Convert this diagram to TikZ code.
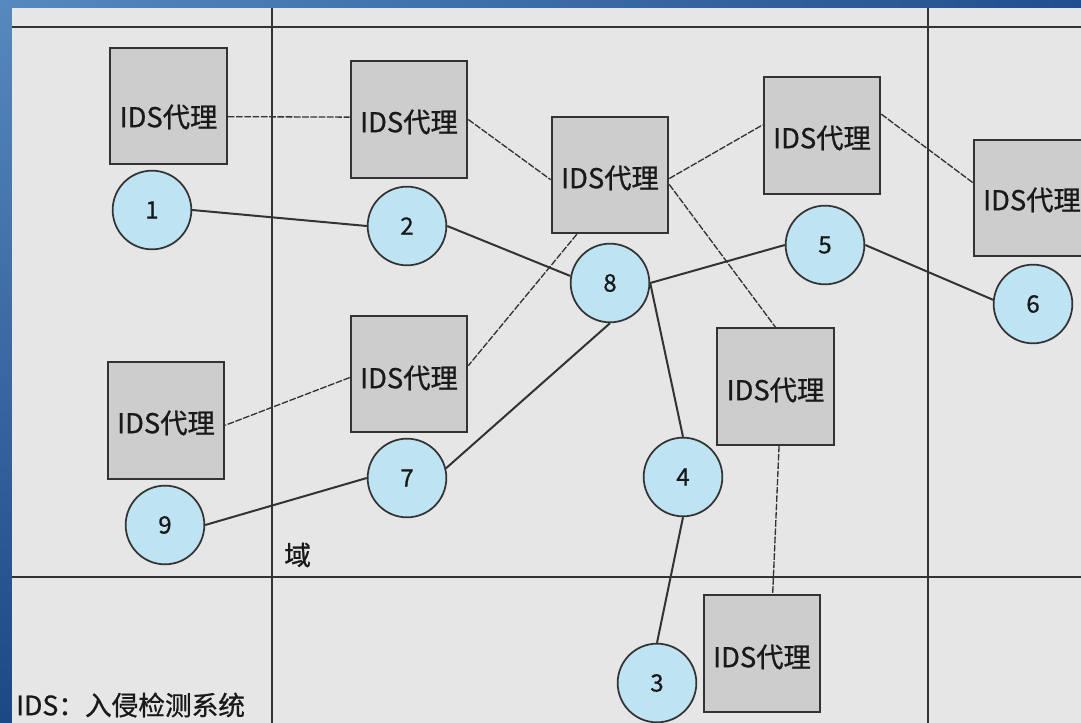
\documentclass[tikz,border=0pt]{standalone}
\usepackage{fontspec}
\newfontfamily\cjk{Noto Sans CJK SC}[FakeBold=0.8]
\usetikzlibrary{calc,shadings}
\definecolor{panel}{HTML}{E6E6E6}
\definecolor{boxfill}{HTML}{CDCDCD}
\definecolor{circfill}{HTML}{BEE3F3}
\definecolor{ink}{HTML}{333333}
\definecolor{bgA}{HTML}{5788BE}
\definecolor{bgB}{HTML}{214F8D}
\definecolor{bgC}{HTML}{1C4886}
\begin{document}
\begin{tikzpicture}[x=0.75pt,y=-0.75pt,
  agent/.style={draw=ink,line width=1.4pt,fill=boxfill,minimum width=87.5pt,minimum height=87.5pt,inner sep=0pt},
  agenttext/.style={font=\cjk\fontsize{20.5}{20.5}\selectfont,text=black!90,inner sep=0pt},
  site/.style={circle,draw=ink,line width=1.3pt,fill=circfill,minimum size=59pt,inner sep=0pt,font=\cjk\fontsize{18}{18}\selectfont,text=black!90},
  link/.style={draw=ink,line width=1.5pt},
  agentlink/.style={draw=ink,line width=1pt,dash pattern=on 5pt off 1.2pt},
  divider/.style={draw=ink,line width=1.8pt},
  note/.style={font=\cjk\fontsize{20}{20}\selectfont,text=black!90,inner sep=0pt}]
\useasboundingbox (0,0) rectangle (1081,723);
\clip (0,0) rectangle (1081,723);
% background
\shade[upper left=bgA,upper right=bgB,lower left=bgC,lower right=bgC] (0,0) rectangle (1081,723);
\fill[panel] (12,8) rectangle (1081,723);
% dividers
\coordinate (hl1) at (12,27);  \coordinate (hr1) at (1081,27);
\coordinate (hl2) at (12,577); \coordinate (hr2) at (1081,577);
\coordinate (vt1) at (272,8);  \coordinate (vb1) at (272,723);
\coordinate (vt2) at (928,8);  \coordinate (vb2) at (928,723);
\draw[divider] (hl1) -- (hr1);
\draw[divider] (hl2) -- (hr2);
\draw[divider] (vt1) -- (vb1);
\draw[divider] (vt2) -- (vb2);
% agents
\node[agent] (b1) at (168.5,106) {};
\node[agent] (b2) at (409,119.5) {};
\node[agent] (b8) at (610,175) {};
\node[agent] (b5) at (822,135.5) {};
\node[agent] (b6) at (1032,198) {};
\node[agent] (b7) at (775.5,386.5) {};
\node[agent] (b3) at (762,653.5) {};
\node[agent] (b4) at (409,374) {};
\node[agent] (b9) at (166,420.5) {};
\node[agenttext] (t1) at (168.5,117) {IDS代理};
\node[agenttext] (t2) at (409,122) {IDS代理};
\node[agenttext] (t8) at (610,178) {IDS代理};
\node[agenttext] (t5) at (822,138) {IDS代理};
\node[agenttext] (t6) at (1032,200) {IDS代理};
\node[agenttext] (t7) at (775.5,390) {IDS代理};
\node[agenttext] (t3) at (762,657) {IDS代理};
\node[agenttext] (t4) at (409,378) {IDS代理};
\node[agenttext] (t9) at (166,423) {IDS代理};
% sites
\node[site] (c1) at (152,210) {1};
\node[site] (c2) at (407,226) {2};
\node[site] (c8) at (610,283) {8};
\node[site] (c5) at (825,245) {5};
\node[site] (c6) at (1033,304) {6};
\node[site] (c4) at (683,477) {4};
\node[site] (c3) at (657,683) {3};
\node[site] (c7) at (407,478) {7};
\node[site] (c9) at (165,525) {9};
% agent links
\draw[agentlink] ($(b1.north east)!0.59!(b1.south east)$) -- ($(b2.north west)!0.48!(b2.south west)$);
\draw[agentlink] (b2.east) -- ($(b8.north west)!0.54!(b8.south west)$);
\draw[agentlink] ($(b8.north east)!0.53!(b8.south east)$) -- ($(b5.north west)!0.41!(b5.south west)$);
\draw[agentlink] ($(b5.north east)!0.32!(b5.south east)$) -- ($(b6.north west)!0.37!(b6.south west)$);
\draw[agentlink] ($(b8.north east)!0.58!(b8.south east)$) -- (b7.north);
\draw[agentlink] ($(b8.south west)!0.22!(b8.south east)$) -- ($(b4.north east)!0.43!(b4.south east)$);
\draw[agentlink] ($(b4.north west)!0.53!(b4.south west)$) -- ($(b9.north east)!0.54!(b9.south east)$);
\draw[agentlink] ($(b7.south west)!0.53!(b7.south east)$) -- ($(b3.north west)!0.59!(b3.north east)$);
% site links
\draw[link] (c1.east) -- (c2.west);
\draw[link] (c2.east) -- (c8.170);
\draw[link] (c8.east) -- (c5.west);
\draw[link] (c5.east) -- (c6.174);
\draw[link] (c8.east) -- (c4.north);
\draw[link] (c8.south) -- (c7.14);
\draw[link] (c7.west) -- (c9.east);
\draw[link] (c4.south) -- (c3.north);
% labels
\node[note,anchor=west] (dom) at (284,555) {域};
\node[note,anchor=west] (legend) at (16,705) {IDS：入侵检测系统};
\end{tikzpicture}
\end{document}
